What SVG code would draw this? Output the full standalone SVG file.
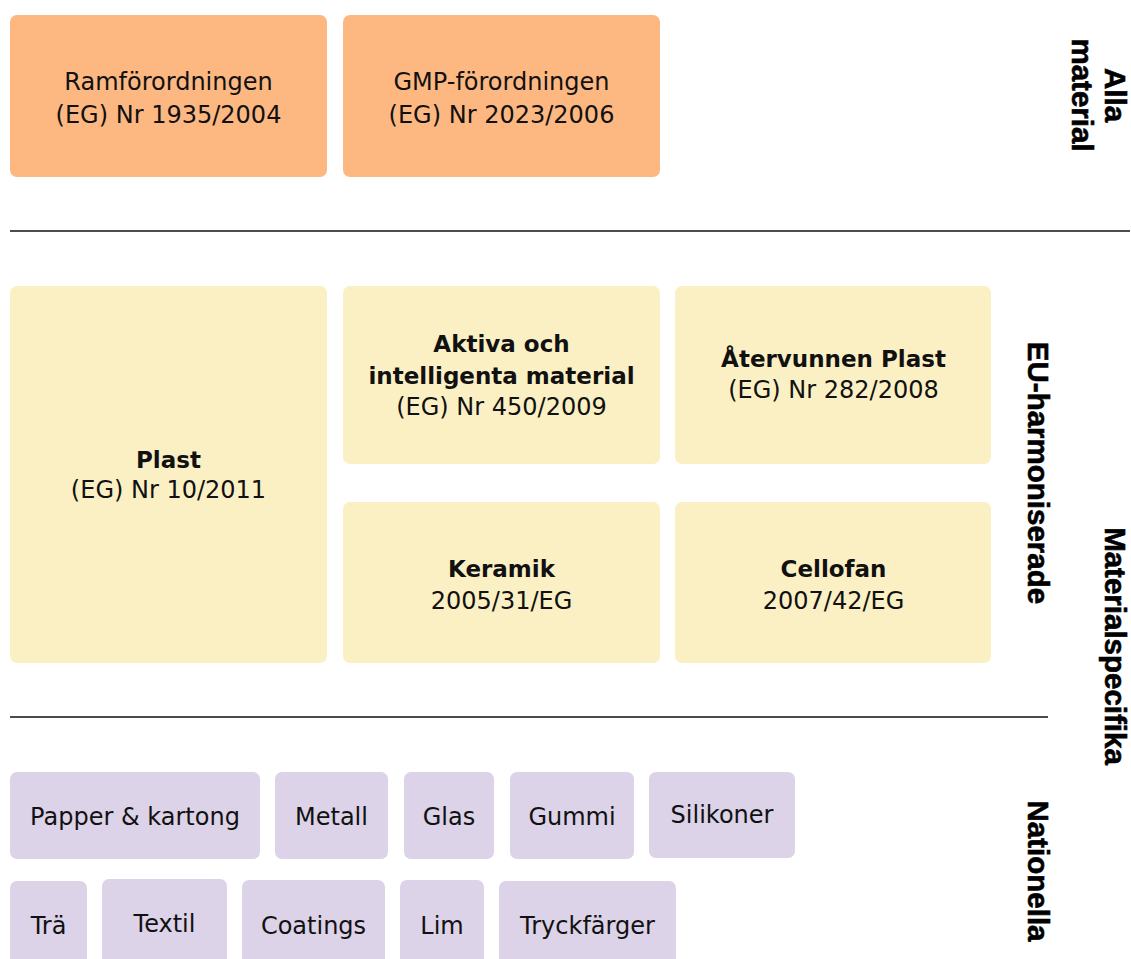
<svg xmlns="http://www.w3.org/2000/svg" width="1131" height="959" viewBox="0 0 1131 959">
<style>
.bg{fill:#ffffff}
.or{fill:#FDB882}
.ye{fill:#FBF0C4}
.la{fill:#DCD3E8}
.t{font-family:"DejaVu Sans",sans-serif;font-size:24px;fill:#111;text-anchor:middle}
.b{font-family:"DejaVu Sans",sans-serif;font-size:23px;font-weight:bold;fill:#111;text-anchor:middle}
.side{font-family:"Liberation Sans",Arial,sans-serif;font-size:29.5px;font-weight:bold;fill:#000;stroke:#000;stroke-width:0.6;text-anchor:middle}
.sep{stroke:#111;stroke-width:1.3;fill:none}
</style>
<rect class="bg" x="0" y="0" width="1131" height="959"/>

<g id="ramforordningen">
<rect class="or" x="10" y="15" width="317" height="162" rx="7"/>
<text class="t" x="168.5" y="90">Ramförordningen</text>
<text class="t" x="168.5" y="123">(EG) Nr 1935/2004</text>
</g>
<g id="gmp">
<rect class="or" x="343" y="15" width="317" height="162" rx="7"/>
<text class="t" x="501.5" y="90">GMP-förordningen</text>
<text class="t" x="501.5" y="123">(EG) Nr 2023/2006</text>
</g>

<g id="plast">
<rect class="ye" x="10" y="286" width="317" height="377" rx="7"/>
<text class="b" x="168.5" y="468">Plast</text>
<text class="t" x="168.5" y="498">(EG) Nr 10/2011</text>
</g>
<g id="aktiva">
<rect class="ye" x="343" y="286" width="317" height="178" rx="7"/>
<text class="b" x="501.5" y="352">Aktiva och</text>
<text class="b" x="501.5" y="384">intelligenta material</text>
<text class="t" x="501.5" y="415">(EG) Nr 450/2009</text>
</g>
<g id="atervunnen">
<rect class="ye" x="675" y="286" width="316" height="178" rx="7"/>
<text class="b" x="833.5" y="367">Återvunnen Plast</text>
<text class="t" x="833.5" y="398">(EG) Nr 282/2008</text>
</g>
<g id="keramik">
<rect class="ye" x="343" y="502" width="317" height="161" rx="7"/>
<text class="b" x="501.5" y="577">Keramik</text>
<text class="t" x="501.5" y="609">2005/31/EG</text>
</g>
<g id="cellofan">
<rect class="ye" x="675" y="502" width="316" height="161" rx="7"/>
<text class="b" x="833.5" y="577">Cellofan</text>
<text class="t" x="833.5" y="609">2007/42/EG</text>
</g>

<g id="papper">
<rect class="la" x="10" y="772" width="250" height="87" rx="7"/>
<text class="t" x="135" y="825">Papper &amp; kartong</text>
</g>
<g id="metall">
<rect class="la" x="275" y="772" width="113" height="87" rx="7"/>
<text class="t" x="331.5" y="825">Metall</text>
</g>
<g id="glas">
<rect class="la" x="404" y="772" width="90" height="87" rx="7"/>
<text class="t" x="449" y="825">Glas</text>
</g>
<g id="gummi">
<rect class="la" x="510" y="772" width="124" height="87" rx="7"/>
<text class="t" x="572" y="825">Gummi</text>
</g>
<g id="silikoner">
<rect class="la" x="649" y="772" width="146" height="86" rx="7"/>
<text class="t" x="722" y="823">Silikoner</text>
</g>

<g id="tra">
<rect class="la" x="10" y="881" width="77" height="90" rx="7"/>
<text class="t" x="48.5" y="934">Trä</text>
</g>
<g id="textil">
<rect class="la" x="102" y="879" width="125" height="92" rx="7"/>
<text class="t" x="164.5" y="932">Textil</text>
</g>
<g id="coatings">
<rect class="la" x="242" y="880" width="143" height="91" rx="7"/>
<text class="t" x="313.5" y="934">Coatings</text>
</g>
<g id="lim">
<rect class="la" x="400" y="880" width="84" height="91" rx="7"/>
<text class="t" x="442" y="934">Lim</text>
</g>
<g id="tryckfarger">
<rect class="la" x="499" y="881" width="177" height="90" rx="7"/>
<text class="t" x="587.5" y="934">Tryckfärger</text>
</g>

<g id="separators">
<line class="sep" x1="10" y1="231" x2="1130" y2="231"/>
<line class="sep" x1="10" y1="717" x2="1048" y2="717"/>
</g>

<g id="labels">
<text class="side" transform="translate(1105,95) rotate(90)">Alla</text>
<text class="side" transform="translate(1072,95) rotate(90)">material</text>
<text class="side" transform="translate(1028,473) rotate(90)">EU-harmoniserade</text>
<text class="side" transform="translate(1105,646) rotate(90)">Materialspecifika</text>
<text class="side" transform="translate(1028,871) rotate(90)">Nationella</text>
</g>
</svg>
